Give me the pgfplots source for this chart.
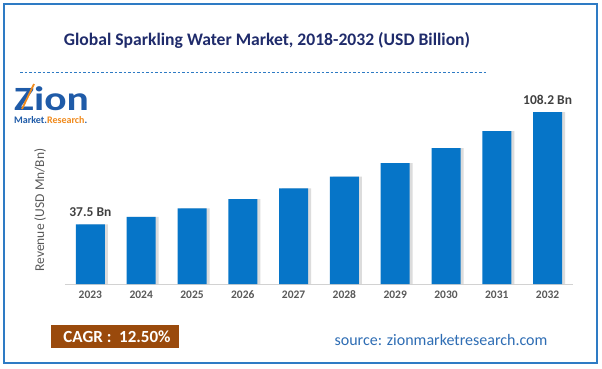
\documentclass[border=0pt]{standalone}
\usepackage{pgfplots}
\pgfplotsset{compat=1.18}
\usepackage{pgfplotstable}
\usepackage{fontspec}
\setmainfont{Carlito}
\definecolor{barblue}{HTML}{0675C8}
\definecolor{titleblue}{HTML}{1F2B6B}
\definecolor{framblue}{HTML}{2E7BC4}
\definecolor{ticgray}{HTML}{595959}
\definecolor{lblgray}{HTML}{404040}
\definecolor{cagrbrown}{HTML}{9A4A0C}
\definecolor{srcblue}{HTML}{2E6DB4}
\definecolor{zionblue}{HTML}{1F5BA8}
\definecolor{zionorange}{HTML}{F08A1C}
\pgfplotstableread{
x val
0 37.5
1 42.2
2 47.5
3 53.4
4 60.1
5 67.6
6 76.0
7 85.5
8 96.2
9 108.2
}\datatab
\begin{document}
\begin{tikzpicture}[x=1pt,y=1pt]
\fill[white] (0,0) rectangle (602,368);
\draw[framblue,line width=1.2pt] (4,5) rectangle (597,364);
\node[font=\fontsize{17.6}{20}\selectfont\bfseries,text=titleblue] at (267,328) {Global Sparkling Water Market, 2018-2032 (USD Billion)};
\draw[framblue,dashed,dash pattern=on 2.5pt off 2pt,line width=0.6pt] (20,296) -- (487,296);
% logo
\node[anchor=base west,inner sep=0pt,font=\fontsize{34}{34}\selectfont\bfseries,text=zionblue,xscale=1.22] at (14,258) {Zion};
\node[anchor=base west,inner sep=0pt,font=\fontsize{10}{10}\selectfont\bfseries] at (14,245) {\textcolor{zionblue}{Market.}\textcolor{zionorange}{Research}\textcolor{zionblue}{.}};
\draw[zionorange,line width=1.8pt] (22,259) -- (34,284);
% y label
\node[rotate=90,font=\fontsize{13.5}{15}\selectfont,text=ticgray] at (40,158) {Revenue (USD Mn/Bn)};
\begin{axis}[
  at={(65pt,84pt)}, anchor=south west,
  scale only axis, width=508pt, height=184pt,
  xmin=-0.5, xmax=9.5, ymin=0, ymax=115.75,
  axis y line=none, axis x line*=bottom,
  x axis line style={draw=gray!35,line width=0.8pt,-},
  xtick=data, xtick style={draw=none},
  xticklabels={2023,2024,2025,2026,2027,2028,2029,2030,2031,2032},
  xticklabel style={font=\fontsize{11.5}{13}\selectfont\bfseries,text=ticgray,yshift=-3pt},
  clip=false,
]
\addplot[ybar,bar width=29pt,bar shift=3pt,fill=gray!45,draw=none,opacity=0.6] table[x=x,y=val]{\datatab};
\addplot[ybar,bar width=29pt,bar shift=0pt,fill=barblue,draw=none] table[x=x,y=val]{\datatab};
\node[font=\fontsize{13.5}{15}\selectfont\bfseries,text=lblgray,anchor=south] at (axis cs:0,37.5) [yshift=4pt] {37.5 Bn};
\node[font=\fontsize{13.5}{15}\selectfont\bfseries,text=lblgray,anchor=south] at (axis cs:9,108.2) [yshift=4pt] {108.2 Bn};
\end{axis}
\fill[cagrbrown] (51,20) rectangle (179,43);
\node[font=\fontsize{17}{19}\selectfont\bfseries,text=white] at (117,31.5) {CAGR :\ \ 12.50\%};
\node[font=\fontsize{16}{18}\selectfont,text=srcblue] at (441,28) {source: zionmarketresearch.com};
\end{tikzpicture}
\end{document}
